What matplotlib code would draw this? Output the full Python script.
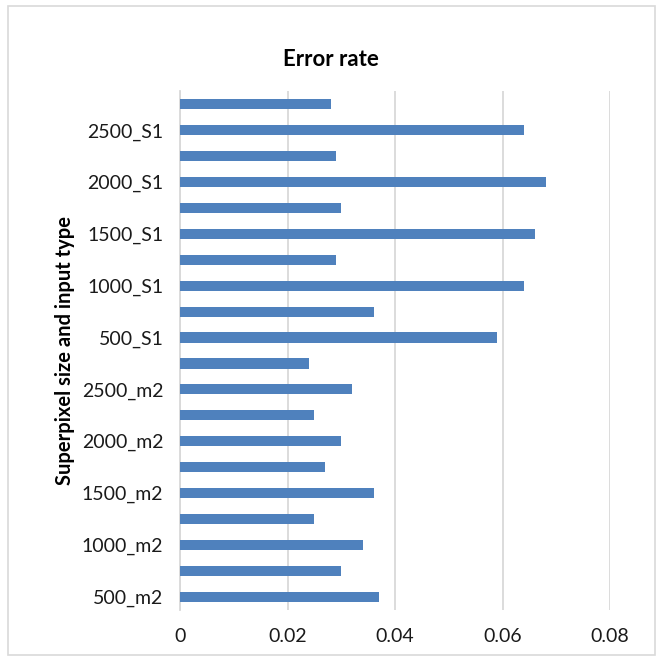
import matplotlib.pyplot as plt
from matplotlib.patches import Rectangle

# categories from bottom to top; every other one has no visible label
labels = ['500_m2', '', '1000_m2', '', '1500_m2', '', '2000_m2', '', '2500_m2', '',
          '500_S1', '', '1000_S1', '', '1500_S1', '', '2000_S1', '', '2500_S1', '']
error_rate = [0.037, 0.030, 0.034, 0.025, 0.036, 0.027, 0.030, 0.025, 0.032, 0.024,
              0.059, 0.036, 0.064, 0.029, 0.066, 0.030, 0.068, 0.029, 0.064, 0.028]
x_ticks = [0, 0.02, 0.04, 0.06, 0.08]
x_tick_labels = ['0', '0.02', '0.04', '0.06', '0.08']

plt.rcParams['font.family'] = ['Lato', 'DejaVu Sans']

W, H = 661, 662
fig = plt.figure(figsize=(W / 100, H / 100), dpi=100)

# outer chart frame
fig.patches.append(Rectangle((8 / W, 1 - 655 / H), 647 / W, 649 / H, transform=fig.transFigure,
                             fill=False, edgecolor='#d9d9d9', linewidth=1.2))

left, right, top, bottom = 180, 610, 91.4, 609.6
ax = fig.add_axes([left / W, 1 - bottom / H, (right - left) / W, (bottom - top) / H])

y = list(range(len(labels)))
ax.barh(y, error_rate, height=0.39, color='#4f81bd', zorder=3)

ax.set_xlim(0, 0.08)
ax.set_ylim(-0.5, len(labels) - 0.5)
ax.set_xticks(x_ticks)
ax.set_xticklabels(x_tick_labels, fontsize=14, color='#1a1a1a')
ax.set_yticks(y)
ax.set_yticklabels(labels, fontsize=14, color='#1a1a1a')
ax.tick_params(axis='both', length=0)
ax.tick_params(axis='x', pad=13)
ax.tick_params(axis='y', pad=12)

ax.grid(axis='x', color='#d9d9d9', linewidth=1.3, zorder=0)
for s in ['top', 'right', 'bottom']:
    ax.spines[s].set_visible(False)
ax.spines['left'].set_color('#d9d9d9')
ax.spines['left'].set_linewidth(1.3)

ax.set_ylabel('Superpixel size and input type', fontsize=14.5, fontweight='bold', labelpad=5)
fig.text(0.5, 1 - 60 / H, 'Error rate', ha='center', va='center', fontsize=16, fontweight='bold')

fig.savefig('out.png', dpi=100, facecolor='white')
